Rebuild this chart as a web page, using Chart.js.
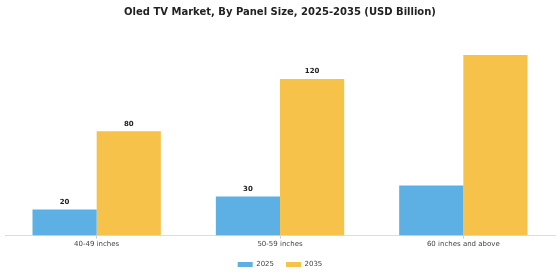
<!DOCTYPE html>
<html>
<head>
<meta charset="utf-8">
<script src="https://cdn.jsdelivr.net/npm/chart.js@4"></script>
<style>
html,body{margin:0;padding:0;background:#fff;}
#wrap{width:560px;height:280px;}
</style>
</head>
<body>
<div id="wrap"><canvas id="c" width="560" height="280"></canvas></div>
<script>
const categories = ["40-49 inches", "50-59 inches", "60 inches and above"];
const seriesNames = ["2025", "2035"];
const values2025 = [20, 30, 38.5];
const values2035 = [80, 120, 138.5];
// value labels as printed in the chart (the last group has none)
const labels2025 = ["20", "30", ""];
const labels2035 = ["80", "120", ""];

const labelPlugin = {
  id: 'barLabels',
  afterDatasetsDraw(chart) {
    const ctx = chart.ctx;
    ctx.save();
    ctx.font = 'bold 7px "DejaVu Sans"';
    ctx.fillStyle = '#222';
    ctx.textAlign = 'center';
    ctx.textBaseline = 'bottom';
    const all = [labels2025, labels2035];
    chart.data.datasets.forEach((ds, i) => {
      const meta = chart.getDatasetMeta(i);
      meta.data.forEach((bar, j) => {
        if (!all[i][j]) return;
        ctx.fillText(all[i][j], bar.x, bar.y - 4);
      });
    });
    ctx.restore();
  }
};

new Chart(document.getElementById('c'), {
  type: 'bar',
  data: {
    labels: categories,
    datasets: [
      { label: seriesNames[0], data: values2025, backgroundColor: '#5DB0E3', borderWidth: 0 },
      { label: seriesNames[1], data: values2035, backgroundColor: '#F6C24A', borderWidth: 0 }
    ]
  },
  options: {
    responsive: false,
    animation: false,
    devicePixelRatio: 1,
    layout: { padding: { left: 5, right: 5, top: 0, bottom: 2 } },
    datasets: { bar: { categoryPercentage: 0.7, barPercentage: 1.0 } },
    plugins: {
      title: {
        display: true,
        text: 'Oled TV Market, By Panel Size, 2025-2035 (USD Billion)',
        font: { family: 'DejaVu Sans', size: 10, weight: 'bold' },
        color: '#222',
        padding: { top: 6, bottom: 35 }
      },
      legend: {
        position: 'bottom',
        labels: {
          boxWidth: 15, boxHeight: 5,
          font: { family: 'DejaVu Sans', size: 7 },
          color: '#444',
          padding: 12
        }
      },
      tooltip: { enabled: false }
    },
    scales: {
      x: {
        grid: { display: true, drawOnChartArea: false, offset: false, tickLength: 3, color: '#ccc' },
        border: { display: true, color: '#ddd' },
        ticks: { font: { family: 'DejaVu Sans', size: 7 }, color: '#444', padding: 1 }
      },
      y: {
        display: false,
        min: 0, max: 140
      }
    }
  },
  plugins: [labelPlugin]
});
</script>
</body>
</html>
